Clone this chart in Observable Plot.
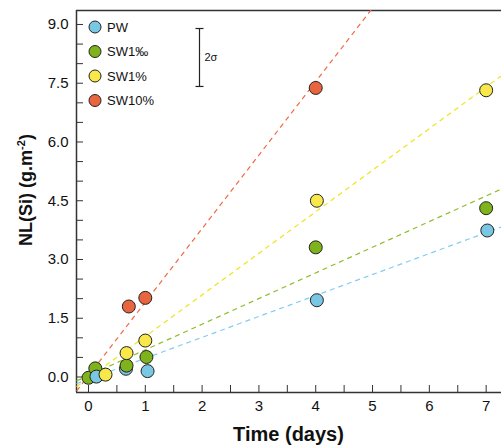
<!DOCTYPE html>
<html><head><meta charset="utf-8">
<script src="https://cdn.jsdelivr.net/npm/d3@7"></script>
<script src="https://cdn.jsdelivr.net/npm/@observablehq/plot@0.6"></script>
<style>body{margin:0;background:#fff} svg{display:block}</style>
</head><body><div id="chart"></div>
<script>
const seriesNames = ["PW", "SW1‰", "SW1%", "SW10%"];
const seriesColors = ["#7ac7e4", "#7fb31b", "#f8e84a", "#e8653f"];
const lineColors = ["#80cdf0", "#8dbd2c", "#eee41b", "#ef6a43"];

const pwTime = [0.14, 0.66, 1.04, 4.02, 7.02];
const pwValue = [0.01, 0.21, 0.15, 1.96, 3.74];
const sw1permilTime = [0.0, 0.12, 0.67, 1.02, 4.0, 7.0];
const sw1permilValue = [-0.02, 0.22, 0.29, 0.51, 3.31, 4.31];
const sw1pctTime = [0.3, 0.67, 1.0, 4.02, 7.0];
const sw1pctValue = [0.06, 0.61, 0.93, 4.50, 7.32];
const sw10pctTime = [0.71, 1.0, 4.0];
const sw10pctValue = [1.80, 2.02, 7.38];

// trend lines (start / end points, per series)
const fitStartTime = [-0.21, -0.21, -0.21, -0.21];
const fitStartValue = [-0.17, -0.10, -0.25, -0.36];
const fitEndTime = [7.27, 7.27, 7.27, 5.0];
const fitEndValue = [3.83, 4.80, 7.69, 9.42];

const twoSigma = 1.48;

const xDomain = [-0.211, 7.27];
const yDomain = [-0.396, 9.357];
const xMinorTicks = [0, 0.5, 1, 1.5, 2, 2.5, 3, 3.5, 4, 4.5, 5, 5.5, 6, 6.5, 7];
const xLabelTicks = [0, 1, 2, 3, 4, 5, 6, 7];
const yMinorTicks = [0, 0.5, 1, 1.5, 2, 2.5, 3, 3.5, 4, 4.5, 5, 5.5, 6, 6.5, 7, 7.5, 8, 8.5, 9];
const yLabelTicks = [0, 1.5, 3, 4.5, 6, 7.5, 9];

const times = [pwTime, sw1permilTime, sw1pctTime, sw10pctTime];
const values = [pwValue, sw1permilValue, sw1pctValue, sw10pctValue];
let points = [];
times.forEach((ts, s) => ts.forEach((t, i) => points.push({t, v: values[s][i], color: seriesColors[s], s})));
points.sort((a, b) => a.t - b.t || a.s - b.s);

const fits = seriesNames.map((name, i) => ({
  x1: fitStartTime[i], y1: fitStartValue[i], x2: fitEndTime[i], y2: fitEndValue[i], color: lineColors[i]
}));

const font = "'Liberation Sans', Arial, Helvetica, sans-serif";
const plot = Plot.plot({
  width: 501, height: 445,
  marginLeft: 76, marginRight: 0, marginTop: 10, marginBottom: 53,
  style: {fontFamily: font, fontSize: "15px", color: "#111", background: "#fff"},
  x: {domain: xDomain},
  y: {domain: yDomain},
  color: {type: "identity"},
  marks: [
    Plot.axisX({ticks: xMinorTicks, tickSize: -7, tickFormat: () => "", label: null, stroke: "#333"}),
    Plot.axisX({ticks: xLabelTicks, tickSize: 0, tickPadding: 8, label: null, fontSize: 15, fill: "#111"}),
    Plot.axisY({ticks: yMinorTicks, tickSize: -7, tickFormat: () => "", label: null, stroke: "#333"}),
    Plot.axisY({ticks: yLabelTicks, tickSize: 0, tickPadding: 8, tickFormat: d3.format(".1f"), label: null, fontSize: 15, fill: "#111"}),
    Plot.ruleX([xDomain[0]], {stroke: "#333", strokeWidth: 1.5}),
    Plot.ruleY([yDomain[0]], {stroke: "#333", strokeWidth: 1.5}),
    Plot.ruleY([yDomain[1]], {stroke: "#333", strokeWidth: 1.5}),
    Plot.link(fits, {x1: "x1", y1: "y1", x2: "x2", y2: "y2", stroke: "color", strokeWidth: 1.2, strokeDasharray: "5,4", clip: true}),
    Plot.dot(points, {x: "t", y: "v", fill: "color", stroke: "#222", strokeWidth: 1, r: 6.5})
  ]
});

const svg = d3.select(plot);
// legend
const lg = svg.append("g").attr("font-family", font).attr("font-size", 13).attr("fill", "#111").attr("text-anchor", "start");
seriesNames.forEach((name, i) => {
  const cy = 27 + i * 24.5;
  lg.append("circle").attr("cx", 95).attr("cy", cy).attr("r", 6).attr("fill", seriesColors[i]).attr("stroke", "#222").attr("stroke-width", 1);
  lg.append("text").attr("x", 107).attr("y", cy).attr("dy", "0.35em").attr("text-anchor", "start").text(name);
});
// 2σ bar
const ys = plot.scale("y");
const barLen = ys.apply(0) - ys.apply(twoSigma);
const barTop = 28.5, bx = 199.5;
const eb = svg.append("g").attr("stroke", "#222").attr("stroke-width", 1.2);
eb.append("line").attr("x1", bx).attr("x2", bx).attr("y1", barTop).attr("y2", barTop + barLen);
eb.append("line").attr("x1", bx - 4).attr("x2", bx + 4).attr("y1", barTop).attr("y2", barTop);
eb.append("line").attr("x1", bx - 4).attr("x2", bx + 4).attr("y1", barTop + barLen).attr("y2", barTop + barLen);
svg.append("text").attr("x", bx + 5).attr("y", barTop + barLen / 2).attr("dy", "0.35em").attr("text-anchor", "start")
  .attr("font-family", font).attr("font-size", 11).attr("fill", "#111").text("2σ");
// axis titles
svg.append("text").attr("x", 288.5).attr("y", 441).attr("text-anchor", "middle")
  .attr("font-family", font).attr("font-weight", "bold").attr("font-size", 20).attr("fill", "#111").text("Time (days)");
const yt = svg.append("text").attr("transform", "translate(32,190) rotate(-90)").attr("text-anchor", "middle")
  .attr("font-family", font).attr("font-weight", "bold").attr("font-size", 18).attr("fill", "#111");
yt.append("tspan").text("NL(Si) (g.m");
yt.append("tspan").attr("font-size", 11).attr("dy", -7).text("-2");
yt.append("tspan").attr("dy", 7).text(")");

document.getElementById("chart").appendChild(plot);
</script>
</body></html>
